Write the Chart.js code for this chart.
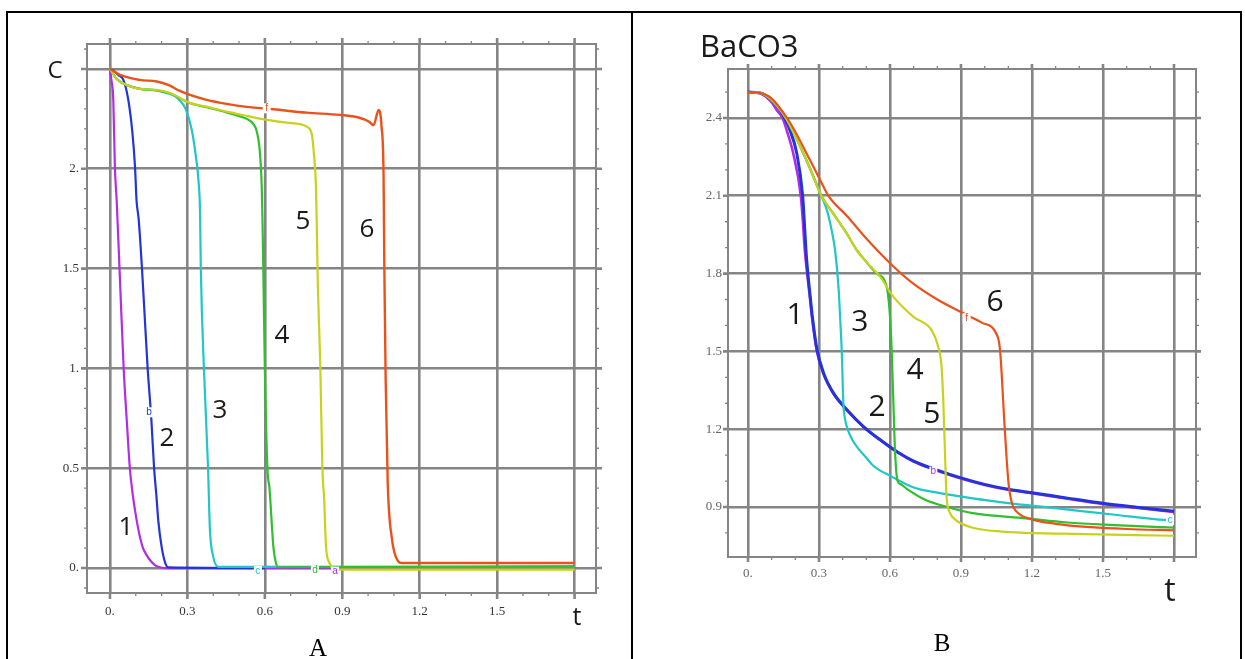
<!DOCTYPE html>
<html>
<head>
<meta charset="utf-8">
<script src="https://cdn.jsdelivr.net/npm/chart.js@4.4.1/dist/chart.umd.min.js"></script>
<style>
  body { margin: 0; background: #fff; width: 1245px; height: 659px; overflow: hidden; position: relative; }
  canvas { position: absolute; top: 0; }
  .rule { position: absolute; background: #000; z-index: 2; }
  .cap { position: absolute; font-family: "Liberation Serif", serif; font-size: 25px; line-height: 25px; color: #000; transform: translateX(-50%); }
</style>
</head>
<body>
<canvas id="chartA" width="632" height="659" style="left:0"></canvas>
<canvas id="chartB" width="613" height="659" style="left:632px"></canvas>

<div class="rule" style="left:6px;top:11px;width:1236px;height:2px"></div>
<div class="rule" style="left:6px;top:11px;width:2px;height:648px"></div>
<div class="rule" style="left:631px;top:11px;width:2px;height:648px"></div>
<div class="rule" style="left:1240px;top:11px;width:2px;height:648px"></div>
<div class="cap" style="left:318px;top:635px">A</div>
<div class="cap" style="left:942px;top:630px">B</div>

<script>
// ticks
var xTicks = [0, 0.3, 0.6, 0.9, 1.2, 1.5, 1.8];
var xTickLabels = ['0.', '0.3', '0.6', '0.9', '1.2', '1.5', ''];
var yTicksA = [0, 0.5, 1, 1.5, 2, 2.5];
var yTickLabelsA = ['0.', '0.5', '1.', '1.5', '2.', ''];
var yTicksB = [0.9, 1.2, 1.5, 1.8, 2.1, 2.4];
var yTickLabelsB = ['0.9', '1.2', '1.5', '1.8', '2.1', '2.4'];

var curveColors = ['#b02ee6', '#2434d6', '#22c6c6', '#2fbf2f', '#c8d21e', '#ea521c'];

// panel A : C(t)
var tA1 = [0, 0.005, 0.013, 0.019, 0.026, 0.037, 0.053, 0.066, 0.077, 0.088, 0.097, 0.106, 0.116, 0.128, 0.142, 0.158, 0.174, 0.19, 0.213, 0.5, 0.87];
var cA1 = [2.5, 2.45, 2.34, 2.01, 1.84, 1.5, 1.0, 0.72, 0.5, 0.37, 0.29, 0.22, 0.157, 0.1, 0.065, 0.035, 0.015, 0.005, 0, 0, 0];

var tA2 = [0, 0.015, 0.032, 0.052, 0.071, 0.087, 0.097, 0.103, 0.111, 0.124, 0.135, 0.146, 0.16, 0.171, 0.18, 0.187, 0.2, 0.213, 0.226, 0.6];
var cA2 = [2.5, 2.49, 2.47, 2.445, 2.345, 2.18, 2.01, 1.84, 1.75, 1.5, 1.25, 1.0, 0.75, 0.5, 0.36, 0.24, 0.107, 0.03, 0.003, 0];

var tA3 = [0, 0.026, 0.065, 0.116, 0.181, 0.232, 0.25, 0.272, 0.293, 0.316, 0.332, 0.343, 0.349, 0.352, 0.364, 0.38, 0.387, 0.4, 0.42, 1.8];
var cA3 = [2.5, 2.45, 2.42, 2.4, 2.392, 2.375, 2.365, 2.34, 2.3, 2.2, 2.07, 1.94, 1.78, 1.5, 1.0, 0.5, 0.2, 0.057, 0.006, 0.008];

var tA4 = [0, 0.026, 0.065, 0.116, 0.181, 0.232, 0.271, 0.31, 0.375, 0.452, 0.504, 0.53, 0.555, 0.568, 0.581, 0.588, 0.591, 0.594, 0.6, 0.61, 0.618, 0.633, 0.642, 0.652, 1.8];
var cA4 = [2.5, 2.45, 2.42, 2.4, 2.393, 2.378, 2.353, 2.328, 2.308, 2.282, 2.262, 2.25, 2.225, 2.19, 2.08, 1.91, 1.74, 1.5, 1.0, 0.5, 0.4, 0.107, 0.03, 0.004, 0.008];

var tA5 = [0, 0.026, 0.065, 0.116, 0.181, 0.232, 0.271, 0.31, 0.375, 0.452, 0.53, 0.607, 0.685, 0.736, 0.762, 0.781, 0.79, 0.798, 0.801, 0.804, 0.815, 0.823, 0.83, 0.837, 0.851, 0.872, 1.8];
var cA5 = [2.5, 2.45, 2.42, 2.4, 2.395, 2.38, 2.355, 2.33, 2.311, 2.286, 2.265, 2.245, 2.231, 2.224, 2.211, 2.178, 2.078, 1.91, 1.74, 1.5, 1.0, 0.5, 0.34, 0.107, 0.024, -0.008, -0.008];

var tA6 = [0, 0.039, 0.116, 0.181, 0.226, 0.271, 0.31, 0.375, 0.452, 0.53, 0.633, 0.762, 0.891, 0.96, 1.005, 1.021, 1.041, 1.052, 1.06, 1.063, 1.068, 1.076, 1.092, 1.116, 1.13, 1.8];
var cA6 = [2.5, 2.47, 2.445, 2.437, 2.42, 2.39, 2.37, 2.345, 2.325, 2.31, 2.298, 2.281, 2.27, 2.258, 2.235, 2.218, 2.295, 2.214, 1.96, 1.5, 0.95, 0.43, 0.15, 0.035, 0.025, 0.025];

// panel B : BaCO3(t)
var tB1 = [0, 0.05, 0.1, 0.121, 0.146, 0.163, 0.191, 0.223, 0.232, 0.24, 0.25, 0.26, 0.27, 0.29, 0.318, 0.36, 0.417, 0.487, 0.558, 0.628, 0.7, 0.8, 0.9, 1.0, 1.1, 1.2, 1.35, 1.5, 1.65, 1.8];
var vB1 = [2.5, 2.495, 2.46, 2.431, 2.4, 2.354, 2.264, 2.1, 2.0, 1.89, 1.8, 1.72, 1.634, 1.505, 1.415, 1.338, 1.274, 1.209, 1.158, 1.113, 1.075, 1.04, 1.01, 0.985, 0.966, 0.953, 0.932, 0.912, 0.896, 0.881];

var tB2 = [0, 0.05, 0.1, 0.135, 0.155, 0.177, 0.206, 0.231, 0.238, 0.245, 0.253, 0.262, 0.272, 0.292, 0.32, 0.362, 0.419, 0.489, 0.56, 0.63, 0.7, 0.8, 0.9, 1.0, 1.1, 1.2, 1.35, 1.5, 1.65, 1.8];
var vB2 = [2.5, 2.497, 2.47, 2.431, 2.4, 2.354, 2.264, 2.1, 2.0, 1.89, 1.8, 1.72, 1.634, 1.505, 1.415, 1.338, 1.274, 1.209, 1.158, 1.113, 1.077, 1.042, 1.012, 0.987, 0.968, 0.955, 0.934, 0.914, 0.898, 0.883];

var tB3 = [0, 0.05, 0.1, 0.16, 0.21, 0.26, 0.31, 0.335, 0.355, 0.368, 0.383, 0.391, 0.396, 0.403, 0.41, 0.421, 0.44, 0.462, 0.5, 0.528, 0.607, 0.7, 0.8, 0.95, 1.1, 1.25, 1.4, 1.55, 1.728, 1.8];
var vB3 = [2.5, 2.497, 2.47, 2.4, 2.31, 2.21, 2.1, 2.04, 1.96, 1.89, 1.74, 1.6, 1.505, 1.3, 1.24, 1.2, 1.16, 1.13, 1.09, 1.06, 1.017, 0.975, 0.955, 0.933, 0.915, 0.9, 0.885, 0.87, 0.852, 0.848];

var tB4 = [0, 0.05, 0.1, 0.16, 0.21, 0.26, 0.31, 0.36, 0.417, 0.46, 0.5, 0.544, 0.586, 0.6, 0.607, 0.614, 0.621, 0.632, 0.645, 0.668, 0.744, 0.85, 0.95, 1.175, 1.35, 1.55, 1.8];
var vB4 = [2.5, 2.497, 2.47, 2.4, 2.31, 2.21, 2.1, 2.032, 1.955, 1.89, 1.845, 1.8, 1.749, 1.634, 1.505, 1.313, 1.12, 1.0, 0.988, 0.972, 0.93, 0.898, 0.876, 0.856, 0.84, 0.83, 0.82];

var tB5 = [0, 0.05, 0.1, 0.16, 0.21, 0.26, 0.31, 0.36, 0.417, 0.46, 0.5, 0.558, 0.614, 0.698, 0.776, 0.804, 0.818, 0.825, 0.832, 0.839, 0.852, 0.877, 0.942, 1.075, 1.322, 1.8];
var vB5 = [2.5, 2.497, 2.47, 2.4, 2.31, 2.21, 2.1, 2.032, 1.955, 1.89, 1.845, 1.788, 1.711, 1.634, 1.582, 1.518, 1.441, 1.313, 1.12, 0.94, 0.88, 0.85, 0.822, 0.805, 0.797, 0.789];

var tB6 = [0, 0.05, 0.1, 0.165, 0.21, 0.255, 0.3, 0.34, 0.42, 0.5, 0.6, 0.7, 0.8, 0.91, 0.99, 1.05, 1.065, 1.085, 1.1, 1.115, 1.135, 1.2, 1.3, 1.45, 1.6, 1.8];
var vB6 = [2.5, 2.497, 2.475, 2.4, 2.33, 2.25, 2.17, 2.1, 2.02, 1.935, 1.84, 1.76, 1.7, 1.647, 1.61, 1.567, 1.505, 1.2, 1.0, 0.915, 0.882, 0.852, 0.835, 0.822, 0.815, 0.81];

// curve numbers and small maple letters, in data units
var notesA = [
  { text: '1', t: 0.062, v: 0.205 }, { text: '2', t: 0.221, v: 0.646 }, { text: '3', t: 0.426, v: 0.79 },
  { text: '4', t: 0.666, v: 1.162 }, { text: '5', t: 0.748, v: 1.733 }, { text: '6', t: 0.996, v: 1.693 }
];
var lettersA = [
  { text: 'b', t: 0.151, v: 0.78, c: 1 }, { text: 'c', t: 0.573, v: -0.015, c: 2 },
  { text: 'd', t: 0.794, v: -0.012, c: 3 }, { text: 'a', t: 0.872, v: -0.018, c: 0 },
  { text: 'f', t: 0.607, v: 2.303, c: 5 }
];
var notesB = [
  { text: '1', t: 0.199, v: 1.64 }, { text: '2', t: 0.545, v: 1.282 }, { text: '3', t: 0.473, v: 1.613 },
  { text: '4', t: 0.706, v: 1.428 }, { text: '5', t: 0.777, v: 1.255 }, { text: '6', t: 1.044, v: 1.69 }
];
var lettersB = [
  { text: 'f', t: 0.924, v: 1.628, c: 5 }, { text: 'b', t: 0.783, v: 1.036, c: 0 }, { text: 'c', t: 1.783, v: 0.85, c: 2 }
];

function zip(ts, vs) {
  return ts.map(function (t, i) { return { x: t, y: vs[i] }; });
}

function minorValues(min, max) {
  var out = [];
  for (var k = Math.ceil(min * 10); k <= Math.floor(max * 10); k++) out.push(k / 10);
  return out;
}

// frame, minor ticks, grid stubs and the text on the plot
var maplePlugin = {
  id: 'maple',
  beforeDatasetsDraw: function (chart, args, o) {
    var ctx = chart.ctx, a = chart.chartArea, x = chart.scales.x, y = chart.scales.y;
    ctx.save();
    ctx.strokeStyle = o.gridColor;
    ctx.lineWidth = 2.6;
    ctx.beginPath();
    xTicks.forEach(function (v) {
      var px = x.getPixelForValue(v);
      ctx.moveTo(px, a.top - o.ext); ctx.lineTo(px, a.top);
      ctx.moveTo(px, a.bottom); ctx.lineTo(px, a.bottom + o.ext);
    });
    o.yMajor.forEach(function (v) {
      var py = y.getPixelForValue(v);
      ctx.moveTo(a.left - o.ext, py); ctx.lineTo(a.left, py);
      ctx.moveTo(a.right, py); ctx.lineTo(a.right + o.ext, py);
    });
    ctx.stroke();

    ctx.lineWidth = 1.3;
    ctx.beginPath();
    minorValues(x.min, x.max).forEach(function (v) {
      var px = x.getPixelForValue(v);
      ctx.moveTo(px, a.top - 3); ctx.lineTo(px, a.top);
      ctx.moveTo(px, a.bottom); ctx.lineTo(px, a.bottom + 3);
    });
    minorValues(y.min, y.max).forEach(function (v) {
      var py = y.getPixelForValue(v);
      ctx.moveTo(a.left - 3, py); ctx.lineTo(a.left, py);
      ctx.moveTo(a.right, py); ctx.lineTo(a.right + 3, py);
    });
    ctx.stroke();

    ctx.lineWidth = 2;
    ctx.strokeRect(a.left, a.top, a.right - a.left, a.bottom - a.top);
    ctx.restore();
  },
  afterDatasetsDraw: function (chart, args, o) {
    var ctx = chart.ctx, x = chart.scales.x, y = chart.scales.y;
    ctx.save();
    ctx.textAlign = 'center';
    ctx.textBaseline = 'middle';
    ctx.font = '10px "Liberation Sans"';
    o.letters.forEach(function (l) {
      var px = x.getPixelForValue(l.t), py = y.getPixelForValue(l.v);
      ctx.fillStyle = '#fff';
      ctx.fillRect(px - 4, py - 5, 8, 10);
      ctx.fillStyle = curveColors[l.c];
      ctx.fillText(l.text, px, py);
    });
    ctx.fillStyle = '#1a1a1a';
    ctx.font = o.noteSize + 'px "Open Sans"';
    o.notes.forEach(function (n) {
      ctx.fillText(n.text, x.getPixelForValue(n.t), y.getPixelForValue(n.v));
    });
    o.axisText.forEach(function (n) {
      ctx.font = n.size + 'px "Open Sans"';
      ctx.textAlign = n.align || 'center';
      ctx.fillText(n.text, x.getPixelForValue(n.t), y.getPixelForValue(n.v));
    });
    ctx.restore();
  }
};

function makeChart(id, series, p) {
  var datasets = series.map(function (s, i) {
    return {
      data: zip(s[0], s[1]),
      borderColor: curveColors[i],
      borderWidth: p.widths[i],
      order: series.length - i, // later curves sit on top
      showLine: true,
      pointRadius: 0,
      cubicInterpolationMode: 'monotone'
    };
  });
  return new Chart(document.getElementById(id), {
    type: 'scatter',
    data: { datasets: datasets },
    plugins: [maplePlugin],
    options: {
      responsive: false,
      animation: false,
      layout: { padding: { top: p.top, right: p.right, left: 0, bottom: 0 } },
      plugins: {
        legend: { display: false },
        tooltip: { enabled: false },
        maple: {
          gridColor: '#858585', ext: p.ext, yMajor: p.yTicks,
          notes: p.notes, letters: p.letters, noteSize: p.noteSize, axisText: p.axisText
        }
      },
      scales: {
        x: {
          type: 'linear', min: p.xMin, max: p.xMax,
          afterBuildTicks: function (s) { s.ticks = xTicks.map(function (v) { return { value: v }; }); },
          afterFit: function (s) { s.height = p.xAxisH; },
          grid: { color: '#858585', lineWidth: 2.6, drawTicks: false },
          border: { display: false },
          ticks: {
            autoSkip: false, maxRotation: 0, padding: p.xPad, color: p.tickColor,
            font: { family: '"Liberation Serif"', size: 13 },
            callback: function (v, i) { return xTickLabels[i]; }
          }
        },
        y: {
          type: 'linear', min: p.yMin, max: p.yMax,
          afterBuildTicks: function (s) { s.ticks = p.yTicks.map(function (v) { return { value: v }; }); },
          afterFit: function (s) { s.width = p.yAxisW; },
          grid: { color: '#858585', lineWidth: 2.6, drawTicks: false },
          border: { display: false },
          ticks: {
            autoSkip: false, padding: p.yPad, color: p.tickColor,
            font: { family: '"Liberation Serif"', size: 13 },
            callback: function (v, i) { return p.yTickLabels[i]; }
          }
        }
      }
    }
  });
}

// panel A
makeChart('chartA', [[tA1, cA1], [tA2, cA2], [tA3, cA3], [tA4, cA4], [tA5, cA5], [tA6, cA6]], {
  top: 44, right: 36, yAxisW: 87, xAxisH: 66, xPad: 11, yPad: 8, ext: 6,
  xMin: -0.089, xMax: 1.883, yMin: -0.125, yMax: 2.625,
  yTicks: yTicksA, yTickLabels: yTickLabelsA, tickColor: '#333',
  widths: [2.2, 2.2, 2.2, 2.2, 2.2, 2.4],
  notes: notesA, letters: lettersA, noteSize: 26,
  axisText: [{ text: 'C', t: -0.213, v: 2.49, size: 24 }, { text: 't', t: 1.809, v: -0.25, size: 25 }]
});

// panel B
makeChart('chartB', [[tB1, vB1], [tB2, vB2], [tB3, vB3], [tB4, vB4], [tB5, vB5], [tB6, vB6]], {
  top: 69, right: 49, yAxisW: 96, xAxisH: 102, xPad: 9, yPad: 6, ext: 5,
  xMin: -0.0845, xMax: 1.893, yMin: 0.707, yMax: 2.589,
  yTicks: yTicksB, yTickLabels: yTickLabelsB, tickColor: '#666',
  widths: [2.6, 3, 2.2, 2.2, 2.2, 2.2],
  notes: notesB, letters: lettersB, noteSize: 30,
  axisText: [{ text: 'BaCO3', t: -0.203, v: 2.67, size: 31, align: 'left' }, { text: 't', t: 1.783, v: 0.572, size: 32 }]
});
</script>
</body>
</html>
